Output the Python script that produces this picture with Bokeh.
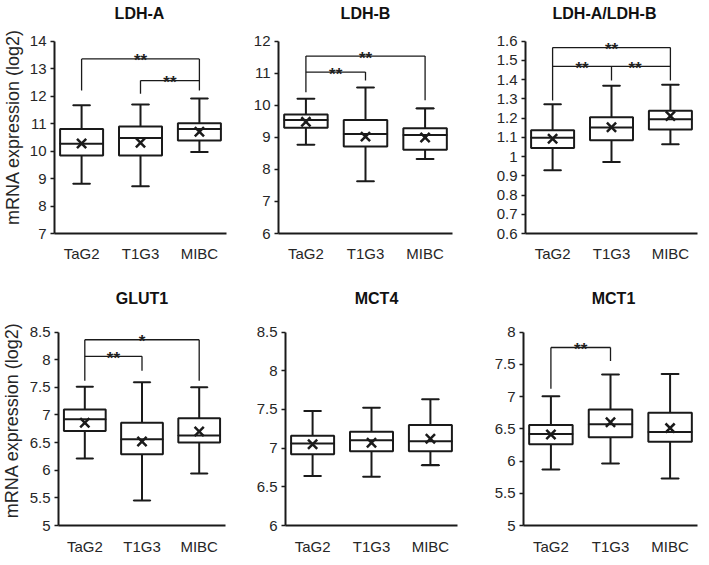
import math
from bokeh.plotting import figure
from bokeh.layouts import row, column
from bokeh.models import FixedTicker, Label, ColumnDataSource, Range1d
from bokeh.core.properties import value
from bokeh.embed import file_html
from bokeh.resources import INLINE

# ---------------- data ----------------
groups = ["TaG2", "T1G3", "MIBC"]
positions = [1, 2, 3]

ldha_wlo = [8.81, 8.72, 9.96]
ldha_q1 = [9.84, 9.84, 10.38]
ldha_med = [10.26, 10.47, 10.80]
ldha_q3 = [10.80, 10.89, 11.01]
ldha_whi = [11.66, 11.69, 11.91]
ldha_mean = [10.27, 10.30, 10.70]
ldha_ticks = [7, 8, 9, 10, 11, 12, 13, 14]

ldhb_wlo = [8.77, 7.63, 8.32]
ldhb_q1 = [9.30, 8.71, 8.61]
ldhb_med = [9.54, 9.10, 9.07]
ldhb_q3 = [9.71, 9.54, 9.28]
ldhb_whi = [10.20, 10.55, 9.90]
ldhb_mean = [9.48, 9.02, 8.99]
ldhb_ticks = [6, 7, 8, 9, 10, 11, 12]

ratio_wlo = [0.928, 0.972, 1.064]
ratio_q1 = [1.044, 1.085, 1.140]
ratio_med = [1.097, 1.151, 1.193]
ratio_q3 = [1.137, 1.204, 1.238]
ratio_whi = [1.272, 1.368, 1.373]
ratio_mean = [1.092, 1.152, 1.21]
ratio_ticks = [0.6, 0.7, 0.8, 0.9, 1.0, 1.1, 1.2, 1.3, 1.4, 1.5, 1.6]

glut1_wlo = [6.21, 5.45, 5.94]
glut1_q1 = [6.71, 6.29, 6.50]
glut1_med = [6.92, 6.56, 6.63]
glut1_q3 = [7.10, 6.86, 6.94]
glut1_whi = [7.51, 7.59, 7.50]
glut1_mean = [6.86, 6.52, 6.70]
glut1_ticks = [5, 5.5, 6, 6.5, 7, 7.5, 8, 8.5]

mct4_wlo = [6.64, 6.63, 6.78]
mct4_q1 = [6.92, 6.96, 6.96]
mct4_med = [7.06, 7.10, 7.09]
mct4_q3 = [7.16, 7.21, 7.30]
mct4_whi = [7.48, 7.52, 7.63]
mct4_mean = [7.05, 7.07, 7.12]
mct4_ticks = [6, 6.5, 7, 7.5, 8, 8.5]

mct1_wlo = [5.87, 5.96, 5.73]
mct1_q1 = [6.26, 6.37, 6.30]
mct1_med = [6.42, 6.57, 6.45]
mct1_q3 = [6.56, 6.80, 6.75]
mct1_whi = [7.005, 7.34, 7.35]
mct1_mean = [6.41, 6.60, 6.51]
mct1_ticks = [5, 5.5, 6, 6.5, 7, 7.5, 8]

# significance brackets: span, height, legs (x, bottom), stars (x, text)
ldha_sig = [
    dict(x0=1, x1=3, y=13.35, legs=[(1, 12.2), (3, 12.2)], stars=[(2, "**")]),
    dict(x0=2, x1=3, y=12.56, legs=[(2, 12.08)], stars=[(2.5, "**")]),
]
ldhb_sig = [
    dict(x0=1, x1=3, y=11.53, legs=[(1, 10.40), (3, 10.15)], stars=[(2, "**")]),
    dict(x0=1, x1=2, y=11.03, legs=[(2, 10.77)], stars=[(1.5, "**")]),
]
ratio_sig = [
    dict(x0=1, x1=3, y=1.566, legs=[(1, 1.291), (3, 1.395)], stars=[(2, "**")]),
    dict(x0=1, x1=3, y=1.468, legs=[(2, 1.395)], stars=[(1.5, "**"), (2.4, "**")]),
]
glut1_sig = [
    dict(x0=1, x1=3, y=8.36, legs=[(1, 7.62), (3, 7.62)], stars=[(2, "*")]),
    dict(x0=1, x1=2, y=8.06, legs=[(2, 7.80)], stars=[(1.5, "**")]),
]
mct4_sig = []
mct1_sig = [
    dict(x0=1, x1=2, y=7.76, legs=[(1, 7.12), (2, 7.55)], stars=[(1.5, "**")]),
]

panels = [
    dict(title="LDH-A", wlo=ldha_wlo, q1=ldha_q1, med=ldha_med, q3=ldha_q3, whi=ldha_whi, mean=ldha_mean, ticks=ldha_ticks, sig=ldha_sig),
    dict(title="LDH-B", wlo=ldhb_wlo, q1=ldhb_q1, med=ldhb_med, q3=ldhb_q3, whi=ldhb_whi, mean=ldhb_mean, ticks=ldhb_ticks, sig=ldhb_sig),
    dict(title="LDH-A/LDH-B", wlo=ratio_wlo, q1=ratio_q1, med=ratio_med, q3=ratio_q3, whi=ratio_whi, mean=ratio_mean, ticks=ratio_ticks, sig=ratio_sig),
    dict(title="GLUT1", wlo=glut1_wlo, q1=glut1_q1, med=glut1_med, q3=glut1_q3, whi=glut1_whi, mean=glut1_mean, ticks=glut1_ticks, sig=glut1_sig),
    dict(title="MCT4", wlo=mct4_wlo, q1=mct4_q1, med=mct4_med, q3=mct4_q3, whi=mct4_whi, mean=mct4_mean, ticks=mct4_ticks, sig=mct4_sig),
    dict(title="MCT1", wlo=mct1_wlo, q1=mct1_q1, med=mct1_med, q3=mct1_q3, whi=mct1_whi, mean=mct1_mean, ticks=mct1_ticks, sig=mct1_sig),
]
ylabel = "mRNA expression (log2)"

# ---------------- layout (page pixels) ----------------
LAB_W = 26
rows_cfg = [
    dict(fig_top=0, height=280, axis_y=233, top_tick_y=40.5, title_y=12.5, std=11, ylab_x=12, ylab_y=152),
    dict(fig_top=280, height=284, axis_y=525, top_tick_y=331.5, title_y=298, std=12, ylab_x=11.5, ylab_y=442),
]
cols_cfg = [
    [dict(width=235 - LAB_W, bl=53 - LAB_W, fw=173, tdx=-1),
     dict(width=230, bl=43, fw=174, tdx=0),
     dict(width=243, bl=60, fw=172, tdx=-7)],
    [dict(width=235 - LAB_W, bl=52 - LAB_W, fw=173, tdx=0),
     dict(width=230, bl=50, fw=172, tdx=5),
     dict(width=243, bl=58, fw=174, tdx=3)],
]
X0, X1 = 0.54, 3.46
BOX_W = 0.73
CAP_W = 0.29
FONT = "Liberation Sans"
LINE = "#1a1a1a"
TEXT = "#262626"


def make_label_fig(rc):
    h = rc["height"]
    p = figure(width=LAB_W, height=h, x_range=Range1d(0, LAB_W), y_range=Range1d(h, 0),
               output_backend="svg", toolbar_location=None, title=None,
               x_axis_type=None, y_axis_type=None,
               min_border_left=0, min_border_right=0, min_border_top=0, min_border_bottom=0)
    p.xgrid.visible = False
    p.ygrid.visible = False
    p.outline_line_color = None
    p.background_fill_color = "white"
    p.border_fill_color = "white"
    p.text(x=[rc["ylab_x"]], y=[rc["ylab_y"] - rc["fig_top"]], text=[ylabel], angle=math.pi / 2,
           text_align="center", text_baseline="middle", text_font=value(FONT),
           text_font_size="18px", text_color=TEXT)
    return p


def make_panel(spec, rc, cc):
    ticks = spec["ticks"]
    lo, hi = ticks[0], ticks[-1]
    ppu = (rc["axis_y"] - rc["top_tick_y"]) / (hi - lo)
    frame_h = rc["axis_y"] - rc["fig_top"]
    y_end = lo + frame_h / ppu
    ppx = cc["fw"] / (X1 - X0)
    br = cc["width"] - cc["bl"] - cc["fw"]
    p = figure(width=cc["width"], height=rc["height"], x_range=(X0, X1), y_range=(lo, y_end),
               output_backend="svg", toolbar_location=None, title=None,
               min_border_left=cc["bl"], min_border_right=br, min_border_top=0,
               min_border_bottom=rc["height"] - frame_h)
    p.xgrid.visible = False
    p.ygrid.visible = False
    p.outline_line_color = None
    p.background_fill_color = "white"
    p.border_fill_color = "white"

    # x axis
    xa = p.xaxis[0]
    xa.ticker = FixedTicker(ticks=positions)
    xa.major_label_overrides = {pos: g for pos, g in zip(positions, groups)}
    xa.major_tick_out = 0
    xa.major_tick_in = 0
    xa.minor_tick_out = 0
    xa.minor_tick_in = 0
    xa.axis_line_width = 2
    xa.axis_line_color = LINE
    xa.major_label_text_font = FONT
    xa.major_label_text_font_size = "15px"
    xa.major_label_text_color = TEXT
    xa.major_label_standoff = rc["std"]

    # y axis
    ya = p.yaxis[0]
    ya.ticker = FixedTicker(ticks=ticks)
    ya.major_label_overrides = {t: f"{t:g}" for t in ticks}
    ya.bounds = (lo, hi)
    ya.major_tick_out = 4
    ya.major_tick_in = 0
    ya.minor_tick_out = 0
    ya.minor_tick_in = 0
    ya.major_tick_line_width = 1.5
    ya.major_tick_line_color = LINE
    ya.axis_line_width = 2
    ya.axis_line_color = LINE
    ya.major_label_text_font = FONT
    ya.major_label_text_font_size = "15px"
    ya.major_label_text_color = TEXT
    ya.major_label_standoff = 4

    src = ColumnDataSource(dict(x=positions, wlo=spec["wlo"], q1=spec["q1"], med=spec["med"],
                                q3=spec["q3"], whi=spec["whi"], mean=spec["mean"]))
    # whiskers
    p.segment(x0="x", y0="wlo", x1="x", y1="q1", source=src, line_color=LINE, line_width=2)
    p.segment(x0="x", y0="q3", x1="x", y1="whi", source=src, line_color=LINE, line_width=2)
    # caps
    p.rect(x="x", y="wlo", width=CAP_W, height=0.0001, source=src, line_color=LINE, line_width=2, fill_color=None)
    p.rect(x="x", y="whi", width=CAP_W, height=0.0001, source=src, line_color=LINE, line_width=2, fill_color=None)
    # boxes
    p.vbar(x="x", bottom="q1", top="q3", width=BOX_W, source=src, fill_color="white",
           line_color=LINE, line_width=2)
    # medians
    p.rect(x="x", y="med", width=BOX_W, height=0.0001, source=src, line_color=LINE, line_width=2, fill_color=None)
    # means
    p.scatter(x="x", y="mean", source=src, marker="x", size=13, line_color=LINE, line_width=2.5)

    # significance brackets
    for b in spec["sig"]:
        hx0 = [b["x0"]]
        hy0 = [b["y"]]
        hx1 = [b["x1"]]
        hy1 = [b["y"]]
        for (lx, lb) in b["legs"]:
            hx0.append(lx)
            hy0.append(b["y"])
            hx1.append(lx)
            hy1.append(lb)
        p.segment(x0=hx0, y0=hy0, x1=hx1, y1=hy1, line_color=LINE, line_width=1.3)
        sx = [s[0] for s in b["stars"]]
        st = [s[1] for s in b["stars"]]
        p.text(x=sx, y=[b["y"]] * len(sx), text=st, text_align="center", text_baseline="alphabetic",
               text_font=value(FONT), text_font_size="17px", text_font_style="bold",
               text_color="#222222", y_offset=2)

    # title
    title_y = y_end - (rc["title_y"] - rc["fig_top"]) / ppu
    p.add_layout(Label(x=2.0 + cc["tdx"] / ppx, y=title_y, text=spec["title"], text_align="center",
                       text_baseline="middle", text_font=FONT, text_font_size="16px",
                       text_font_style="bold", text_color="#111111"))
    return p


figs = []
for r in range(2):
    rowfigs = [make_label_fig(rows_cfg[r])]
    for c in range(3):
        spec = panels[r * 3 + c]
        rowfigs.append(make_panel(spec, rows_cfg[r], cols_cfg[r][c]))
    figs.append(row(*rowfigs))

layout = column(*figs)
open("out.html", "w").write(file_html(layout, INLINE))
